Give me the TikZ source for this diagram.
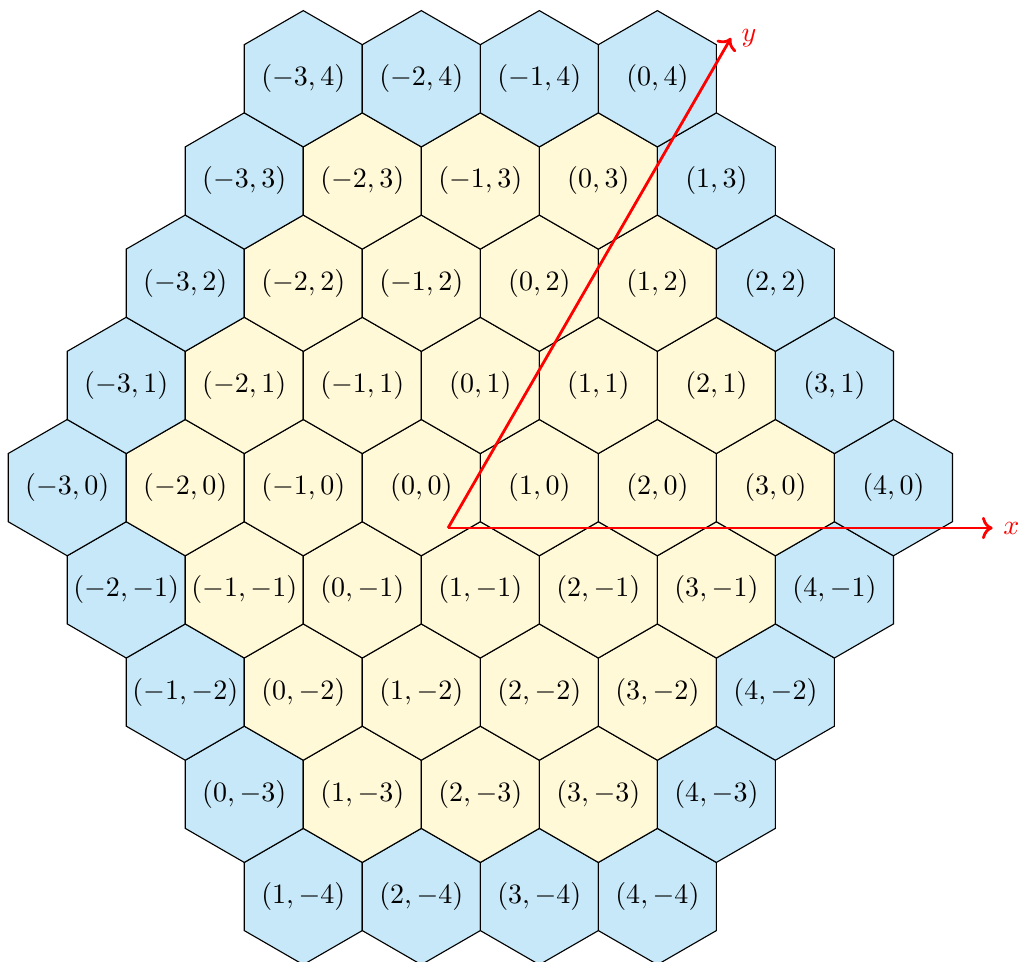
\documentclass[tikz,border=0pt]{standalone}
\usepackage{tikz}
\usetikzlibrary{shapes.geometric, arrows.meta, positioning, calc}

\definecolor{hexblue}{RGB}{199,232,248}
\definecolor{hexyellow}{RGB}{255,249,216}

\begin{document}
\begin{tikzpicture}[
    hexcell/.style={regular polygon, regular polygon sides=6, shape border rotate=30, draw=black, minimum size=1.71cm, inner sep=0pt},
    hexlabel/.style={inner sep=0pt},
    axis/.style={->, red, line width=1pt}
]
\useasboundingbox (-5.286,-5.943) rectangle (7.549,6.118);

% hexagonal board, rim cells blue
\foreach \r in {-4,...,4} {
  \pgfmathtruncatemacro\qmin{\r<0 ? -3-(\r) : -3}
  \pgfmathtruncatemacro\qmax{\r>0 ? 4-(\r) : 4}
  \foreach \q in {\qmin,...,\qmax} {
    \pgfmathtruncatemacro\rim{or(or(\q==\qmin,\q==\qmax),abs(\r)==4)}
    \ifnum\rim=1 \def\hexfill{hexblue}\else\def\hexfill{hexyellow}\fi
    \node[hexcell, fill=\hexfill] (hex \q \r) at ({(\q+0.5*\r)*1.4809},{1.2825*\r}) {};
    \node[hexlabel] (lbl \q \r) at (hex \q \r.center) {$(\q,\r)$};
  }
}

% axes
\coordinate (origin) at (0.335,-0.507);
\coordinate (xtip) at (7.168,-0.507);
\coordinate (ytip) at ($(origin)+(60:7.1)$);
\draw[axis] (origin) -- (xtip) node[right] (xlabel) {$x$};
\draw[axis] (origin) -- (ytip) node[right] (ylabel) {$y$};
\end{tikzpicture}
\end{document}
